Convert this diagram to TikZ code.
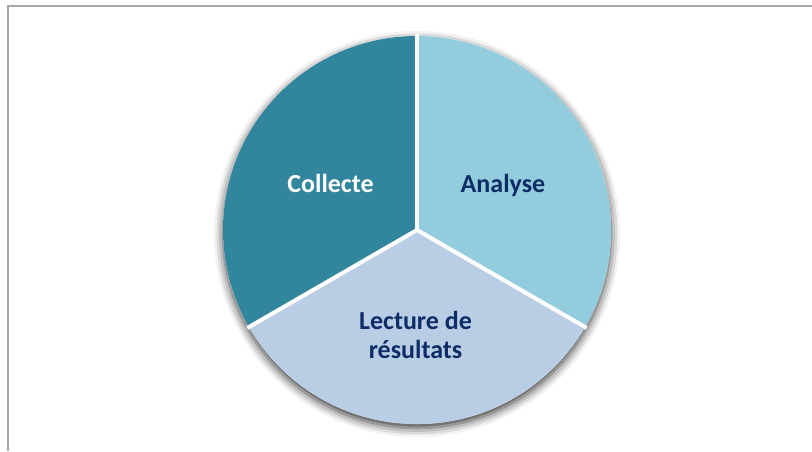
\documentclass[tikz,border=0pt]{standalone}
\usepackage{fontspec}
\setmainfont{Carlito}[BoldFont={Carlito Bold}]
\usetikzlibrary{shadows.blur}
\definecolor{collecteC}{HTML}{31859C}
\definecolor{analyseC}{HTML}{93CDDD}
\definecolor{lectureC}{HTML}{B9CDE5}
\definecolor{navyT}{HTML}{0E2C66}
\definecolor{frameC}{HTML}{A6A6A6}
\begin{document}
\begin{tikzpicture}[x=1pt,y=1pt,
  label/.style={font=\fontsize{26}{29}\selectfont\bfseries, anchor=base, inner sep=0pt},
  slicesep/.style={draw=white, line width=4pt}]
\useasboundingbox (0,0) rectangle (812,451);
% frame lines along the top and left edges
\draw[frameC, line width=1.2pt] (8,0) -- (8,445) -- (812,445);
% pie centre
\coordinate (c) at (417,221);
% soft shadow beneath the pie
\fill[white, blur shadow={shadow xshift=0pt, shadow yshift=-4pt,
  shadow blur radius=9pt, shadow opacity=80}] (c) circle (194);
% slices
\fill[collecteC] (c) -- ++(90:194) arc[start angle=90, end angle=210, radius=194] -- cycle;
\fill[lectureC] (c) -- ++(210:194) arc[start angle=210, end angle=330, radius=194] -- cycle;
\fill[analyseC] (c) -- ++(330:194) arc[start angle=330, end angle=450, radius=194] -- cycle;
% white separators between slices
\draw[slicesep] (c) -- ++(90:196);
\draw[slicesep] (c) -- ++(210:196);
\draw[slicesep] (c) -- ++(330:196);
% labels
\node[label, text=white] (collecte) at (330.5,259) {Collecte};
\node[label, text=navyT] (analyse) at (503,259) {Analyse};
\node[label, text=navyT] (lecture1) at (415.5,122) {Lecture de};
\node[label, text=navyT] (lecture2) at (415.5,93) {résultats};
\end{tikzpicture}
\end{document}
